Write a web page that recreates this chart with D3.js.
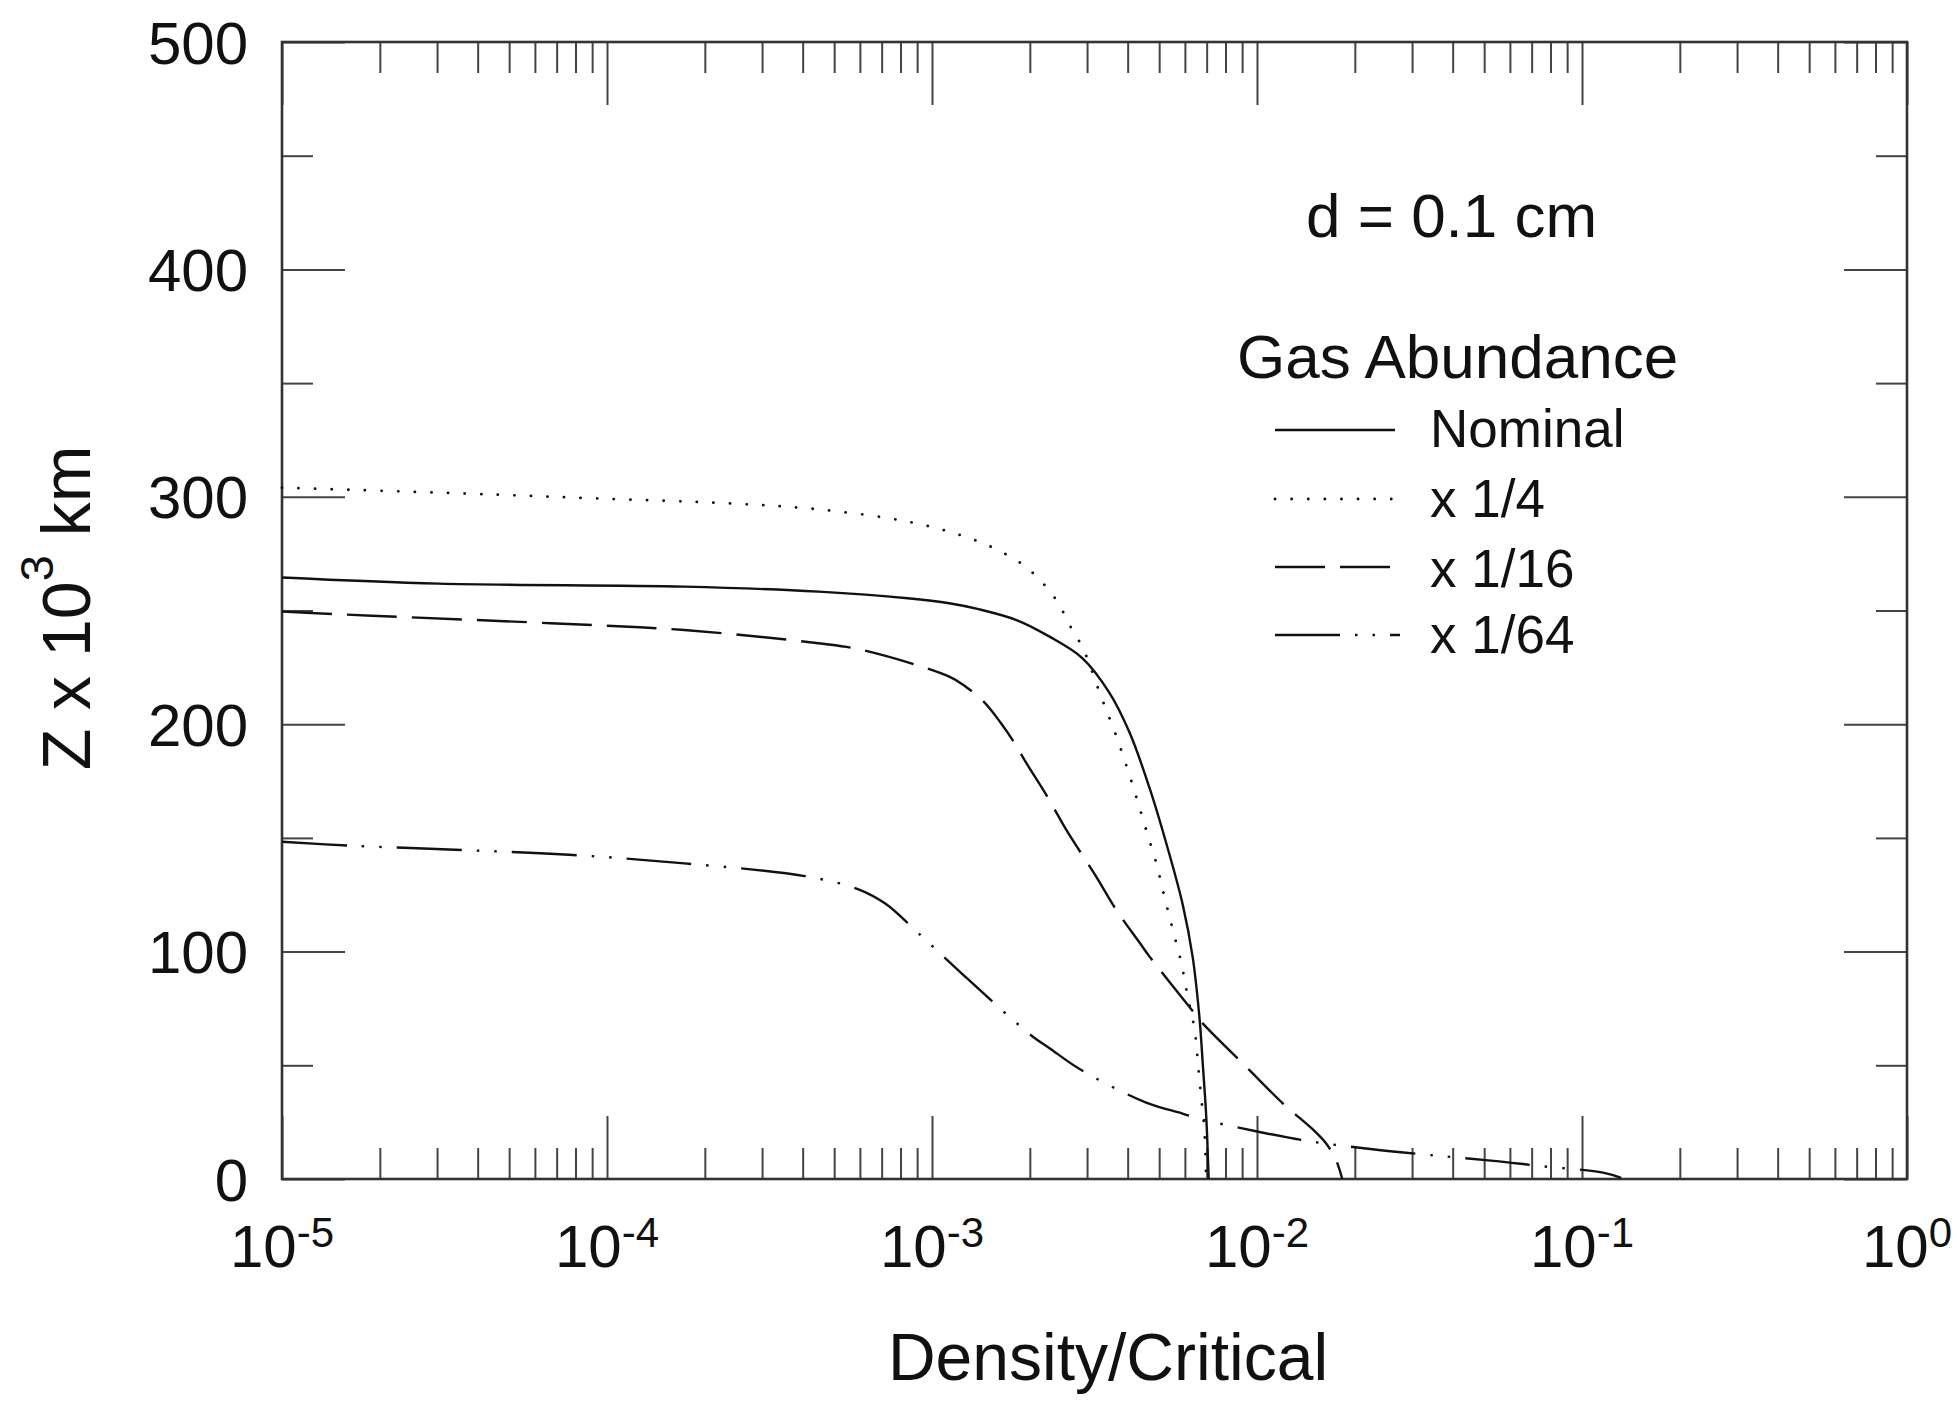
<!DOCTYPE html>
<html>
<head>
<meta charset="utf-8">
<script src="https://cdn.jsdelivr.net/npm/d3@7"></script>
<style>
  html, body { margin: 0; padding: 0; background: #fff; }
  svg { display: block; }
  text { font-family: "Liberation Sans", Arial, Helvetica, sans-serif; fill: #111; }
</style>
</head>
<body>
<svg id="chart" width="1957" height="1402"></svg>
<script>
// Height profiles of density/critical for d = 0.1 cm at four gas abundances.
// Each series: [density/critical, Z (10^3 km)]
const nominal = [
  [1.00e-5, 264.5], [3.04e-5, 261.8], [1.73e-4, 260.5], [4.48e-4, 258.3],
  [8.41e-4, 255.4], [1.13e-3, 253.2], [1.39e-3, 250.6], [1.82e-3, 245.8],
  [2.30e-3, 238.5], [2.90e-3, 229.1], [3.52e-3, 213.7], [4.06e-3, 196.1],
  [4.67e-3, 172.0], [5.33e-3, 144.7], [5.90e-3, 121.0], [6.34e-3, 97.6],
  [6.65e-3, 71.2], [6.82e-3, 49.3], [6.98e-3, 27.3], [7.10e-3, 0]
];
const quarter = [
  [1.00e-5, 304.0], [3.56e-5, 301.5], [9.20e-5, 299.3], [2.38e-4, 297.1],
  [4.47e-4, 294.5], [8.41e-4, 289.1], [1.22e-3, 283.2], [1.54e-3, 277.6],
  [1.95e-3, 269.0], [2.38e-3, 255.8], [2.71e-3, 241.1], [2.91e-3, 233.6],
  [3.32e-3, 211.8], [3.64e-3, 197.1], [3.95e-3, 182.5], [4.25e-3, 168.1],
  [4.56e-3, 153.5], [4.90e-3, 138.8], [5.19e-3, 124.1], [5.51e-3, 109.5],
  [5.85e-3, 94.9], [6.12e-3, 80.2], [6.43e-3, 65.5], [6.58e-3, 50.9],
  [6.73e-3, 36.2], [6.89e-3, 21.5], [6.97e-3, 0]
];
const sixteenth = [
  [1.00e-5, 249.5], [1.89e-5, 247.7], [6.71e-5, 244.4], [1.73e-4, 241.4],
  [4.47e-4, 235.6], [6.12e-4, 232.6], [1.13e-3, 220.9], [1.27e-3, 216.5],
  [1.44e-3, 210.0], [1.62e-3, 201.0], [1.79e-3, 192.0], [1.95e-3, 183.0],
  [2.28e-3, 167.4], [2.59e-3, 153.5], [3.20e-3, 133.0], [3.69e-3, 118.3],
  [4.35e-3, 104.0], [4.67e-3, 97.8], [6.19e-3, 75.8], [6.73e-3, 69.2],
  [9.48e-3, 47.9], [1.20e-2, 33.3], [1.48e-2, 22.0], [1.63e-2, 15.7],
  [1.75e-2, 8.4], [1.83e-2, 0]
];
const sixtyFourth = [
  [1.00e-5, 148.3], [1.62e-5, 146.6], [3.56e-5, 144.7], [7.85e-5, 142.5],
  [1.73e-4, 138.8], [4.06e-4, 133.2], [5.94e-4, 127.4], [7.20e-4, 121.0],
  [8.97e-4, 108.8], [1.28e-3, 88.3], [2.03e-3, 62.9], [2.30e-3, 57.5],
  [2.88e-3, 47.9], [4.56e-3, 33.6], [5.87e-3, 28.9], [6.56e-3, 26.7],
  [1.01e-2, 20.8], [1.48e-2, 16.4], [2.30e-2, 13.0], [3.37e-2, 10.6],
  [5.25e-2, 8.1], [7.45e-2, 5.7], [1.16e-1, 2.8], [1.32e-1, 0.5]
];

const seriesNames = ["Nominal", "x 1/4", "x 1/16", "x 1/64"];
const decadeExponents = [-5, -4, -3, -2, -1, 0];
const zMajorTicks = [0, 100, 200, 300, 400, 500];
const zMinorTicks = [50, 150, 250, 350, 450];

const svg = d3.select("#chart");
const plotL = 282, plotR = 1907, plotT = 42, plotB = 1179;

const x = d3.scaleLog().domain([1e-5, 1]).range([plotL, plotR]);
const y = d3.scaleLinear().domain([0, 500]).range([plotB, plotT]);

const majorLen = 63, minorLen = 31;
const decadeValues = decadeExponents.map(e => Math.pow(10, e));
const minorX = x.ticks().filter(v => !decadeValues.some(d => Math.abs(v / d - 1) < 1e-9));

// ticks on all four sides, pointing inward
function addAxis(axisGen, tx, ty) {
  const g = svg.append("g").attr("transform", `translate(${tx},${ty})`).call(axisGen);
  g.select(".domain").remove();
  g.selectAll(".tick line").attr("stroke", "#444").attr("stroke-width", 2);
  g.selectAll(".tick text").remove();
  return g;
}
addAxis(d3.axisBottom(x).tickValues(decadeValues).tickSize(-majorLen), 0, plotB);
addAxis(d3.axisBottom(x).tickValues(minorX).tickSize(-minorLen), 0, plotB);
addAxis(d3.axisTop(x).tickValues(decadeValues).tickSize(-majorLen), 0, plotT);
addAxis(d3.axisTop(x).tickValues(minorX).tickSize(-minorLen), 0, plotT);
addAxis(d3.axisLeft(y).tickValues(zMajorTicks).tickSize(-majorLen), plotL, 0);
addAxis(d3.axisLeft(y).tickValues(zMinorTicks).tickSize(-minorLen), plotL, 0);
addAxis(d3.axisRight(y).tickValues(zMajorTicks).tickSize(-majorLen), plotR, 0);
addAxis(d3.axisRight(y).tickValues(zMinorTicks).tickSize(-minorLen), plotR, 0);

// frame
svg.append("rect")
  .attr("x", plotL).attr("y", plotT)
  .attr("width", plotR - plotL).attr("height", plotB - plotT)
  .attr("fill", "none").attr("stroke", "#333").attr("stroke-width", 2.6);

// Z tick labels
svg.append("g").selectAll("text").data(zMajorTicks).join("text")
  .attr("x", plotL - 34).attr("y", d => y(d)).attr("dy", "0.36em")
  .attr("text-anchor", "end").attr("font-size", 60)
  .text(d => d);

// density tick labels as powers of ten
const xl = svg.append("g").selectAll("text").data(decadeExponents).join("text")
  .attr("x", e => x(Math.pow(10, e))).attr("y", 1267)
  .attr("text-anchor", "middle").attr("font-size", 60);
xl.append("tspan").text("10");
xl.append("tspan").attr("dy", -20).attr("font-size", 42).text(e => String(e));

// axis titles
svg.append("text")
  .attr("x", 1108).attr("y", 1380).attr("text-anchor", "middle")
  .attr("font-size", 66).text("Density/Critical");

const yt = svg.append("text")
  .attr("transform", "translate(90,608) rotate(-90)")
  .attr("text-anchor", "middle").attr("font-size", 68);
yt.append("tspan").text("Z x 10");
yt.append("tspan").attr("dy", -37).attr("font-size", 47).text("3");
yt.append("tspan").attr("dy", 37).text(" km");

// curves
const line = d3.line()
  .x(d => x(d[0])).y(d => y(d[1]))
  .curve(d3.curveCatmullRom.alpha(0.5));

const styles = [
  { data: nominal, dash: null, cap: "butt" },
  { data: quarter, dash: "0.1,16.5", cap: "round", width: 2.8 },
  { data: sixteenth, dash: "50,15", cap: "butt" },
  { data: sixtyFourth, dash: "65,15,2.5,15,2.5,15", cap: "butt" }
];

svg.append("g").selectAll("path").data(styles).join("path")
  .attr("d", s => line(s.data))
  .attr("fill", "none").attr("stroke", "#111")
  .attr("stroke-width", s => s.width || 2.4)
  .attr("stroke-linecap", s => s.cap)
  .attr("stroke-dasharray", s => s.dash);

// annotation and legend
svg.append("text").attr("x", 1306).attr("y", 237)
  .attr("font-size", 62).text("d = 0.1 cm");
svg.append("text").attr("x", 1237).attr("y", 378)
  .attr("font-size", 62).text("Gas Abundance");

const legendLineY = [430, 499, 567, 635];
const legendTextY = [447, 517, 587, 653];
const lg = svg.append("g").selectAll("g").data(styles).join("g");
lg.append("line")
  .attr("x1", 1275).attr("x2", (s, i) => i === 3 ? 1400 : 1395)
  .attr("y1", (s, i) => legendLineY[i]).attr("y2", (s, i) => legendLineY[i])
  .attr("stroke", "#111")
  .attr("stroke-width", s => s.width || 2.4)
  .attr("stroke-linecap", s => s.cap)
  .attr("stroke-dasharray", s => s.dash);
lg.append("text")
  .attr("x", 1430).attr("y", (s, i) => legendTextY[i])
  .attr("font-size", 53)
  .text((s, i) => seriesNames[i]);
</script>
</body>
</html>
